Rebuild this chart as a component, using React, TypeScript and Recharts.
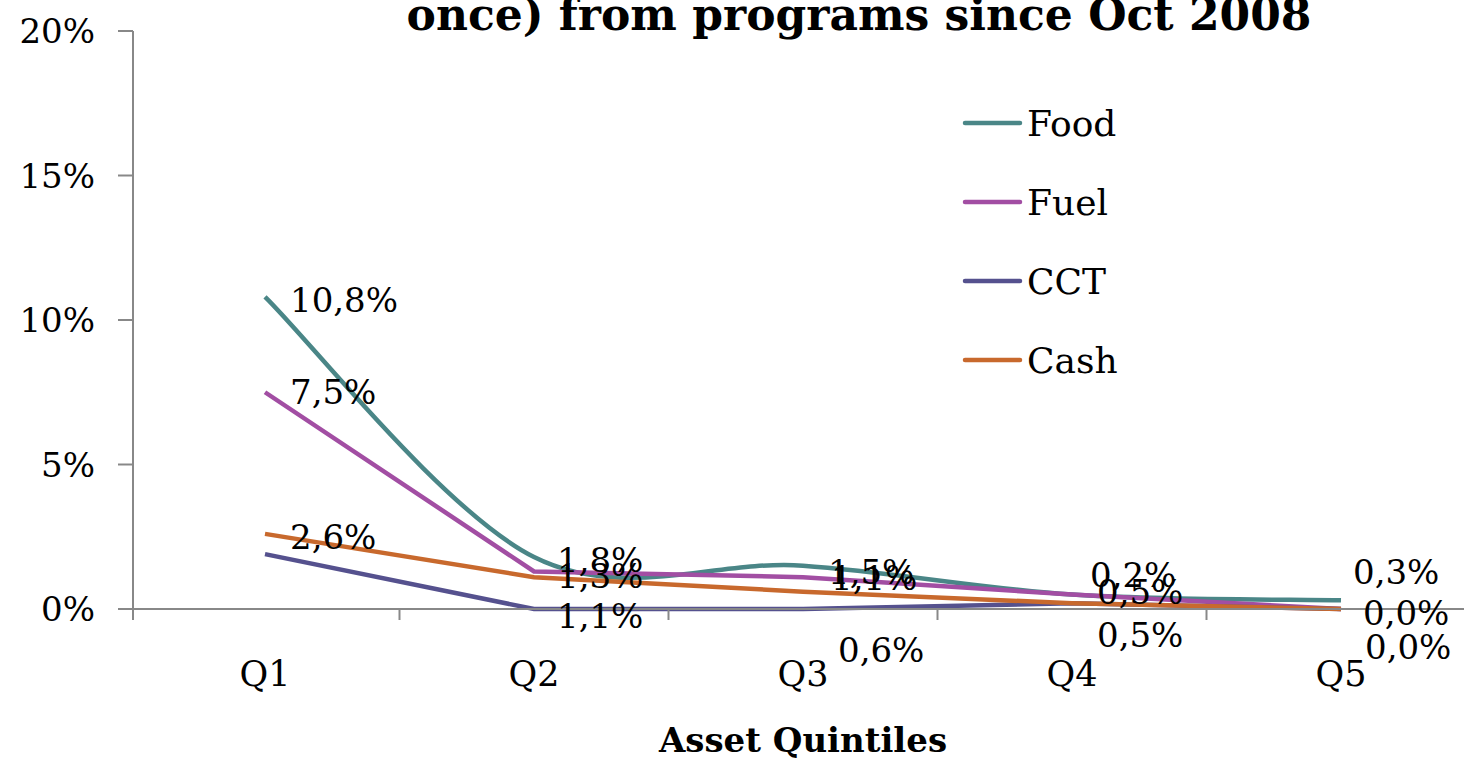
import { Label, LabelList, Legend, Line, LineChart, XAxis, YAxis } from "recharts";

const QUINTILES = ["Q1", "Q2", "Q3", "Q4", "Q5"];
const SERIES_ORDER = ["Food", "Fuel", "CCT", "Cash"];
const FOOD = [10.8, 1.8, 1.5, 0.5, 0.3];
const FUEL = [7.5, 1.3, 1.1, 0.5, 0.0];
const CCT = [1.9, 0.0, 0.0, 0.2, 0.0];
const CASH = [2.6, 1.1, 0.6, 0.2, 0.0];
const FOOD_LABELS = [10.8, 1.8, 1.5, 0.5, 0.3];
const FUEL_LABELS = [7.5, 1.3, 1.1, 0.5, 0.0];
const CASH_LABELS = [2.6, 1.1, 0.6, 0.2, 0.0];
const Y_TICKS = [0, 5, 10, 15, 20];

const COLORS = { food: "#4A8687", fuel: "#A24EA3", cct: "#55518E", cash: "#C8692D" };
const FONT = "'DejaVu Serif', serif";
const AXIS_GREY = "#888888";

const W = 1480;
const H = 762;
const PAD = 132;
const STEP = 269;

// where each data label sits relative to its point (the original stacks them oddly)
const LABEL_POS = {
  food: { dx: [25, 23, 25, 25, 12], dy: [3, 3, 6, -3, -28] },
  fuel: { dx: [25, 23, 28, 25, 22], dy: [0, 5, 1, 40, 4] },
  cash: { dx: [25, 23, 35, 18, 24], dy: [3, 39, 58, -28, 38] },
};

const data = QUINTILES.map((q, i) => ({
  q,
  food: FOOD[i],
  fuel: FUEL[i],
  cct: CCT[i],
  cash: CASH[i],
  foodLabel: FOOD_LABELS[i],
  fuelLabel: FUEL_LABELS[i],
  cashLabel: CASH_LABELS[i],
}));

const fmt = (v: number) => v.toFixed(1).replace(".", ",") + "%";

// Excel style smoothed line (Catmull-Rom through the points)
const excelSmooth = (context: any) => {
  let pts: number[][] = [];
  return {
    areaStart() {},
    areaEnd() {},
    lineStart() {
      pts = [];
    },
    point(x: number, y: number) {
      pts.push([+x, +y]);
    },
    lineEnd() {
      if (!pts.length) return;
      context.moveTo(pts[0][0], pts[0][1]);
      for (let i = 0; i < pts.length - 1; i++) {
        const p0 = pts[Math.max(i - 1, 0)];
        const p1 = pts[i];
        const p2 = pts[i + 1];
        const p3 = pts[Math.min(i + 2, pts.length - 1)];
        context.bezierCurveTo(
          p1[0] + (p2[0] - p0[0]) / 6,
          p1[1] + (p2[1] - p0[1]) / 6,
          p2[0] - (p3[0] - p1[0]) / 6,
          p2[1] - (p3[1] - p1[1]) / 6,
          p2[0],
          p2[1],
        );
      }
    },
  };
};

const makeLabel = (pos: { dx: number[]; dy: number[] }) => (props: any) => {
  const { x, y, value, index } = props;
  if (x == null || y == null) return null;
  return (
    <text
      x={x + pos.dx[index]}
      y={y + pos.dy[index]}
      dominantBaseline="central"
      fontFamily={FONT}
      fontSize={34}
      fill="#000"
    >
      {fmt(Number(value))}
    </text>
  );
};

const XTick = (props: any) => {
  const { x, y, payload, index } = props;
  const left = index === 0 ? x - PAD : x - STEP / 2;
  return (
    <g>
      <line x1={left} x2={left} y1={y} y2={y + 11} stroke={AXIS_GREY} strokeWidth={2} />
      {index === QUINTILES.length - 1 && (
        <line x1={x + STEP / 2} x2={x + STEP / 2} y1={y} y2={y + 11} stroke={AXIS_GREY} strokeWidth={2} />
      )}
      <text x={x} y={y + 77} textAnchor="middle" fontFamily={FONT} fontSize={35} fill="#000">
        {payload.value}
      </text>
    </g>
  );
};

const renderLegend = (props: any) => {
  const items = (props.payload || [])
    .filter((p: any) => p.value)
    .sort((a: any, b: any) => SERIES_ORDER.indexOf(a.value) - SERIES_ORDER.indexOf(b.value));
  return (
    <svg width={300} height={320}>
      {items.map((p: any, i: number) => {
        const cy = 33 + i * 79;
        return (
          <g key={p.value}>
            <line x1={15} x2={70} y1={cy} y2={cy} stroke={p.color} strokeWidth={4.5} strokeLinecap="round" />
            <text x={77} y={cy} dominantBaseline="central" fontFamily={FONT} fontSize={36} fill="#000">
              {p.value}
            </text>
          </g>
        );
      })}
    </svg>
  );
};

export default function App() {
  return (
    <div
      style={{
        position: "absolute",
        left: 0,
        top: 0,
        width: 1464,
        height: 762,
        overflow: "hidden",
        background: "#fff",
      }}
    >
      <LineChart width={W} height={H} data={data} margin={{ top: 31, right: 7, bottom: 0, left: 0 }}>
        <XAxis
          dataKey="q"
          padding={{ left: PAD, right: PAD }}
          height={153}
          tickLine={false}
          tickSize={0}
          tickMargin={0}
          axisLine={{ stroke: AXIS_GREY, strokeWidth: 2 }}
          tick={<XTick />}
          interval={0}
        >
          <Label
            value="Asset Quintiles"
            position="insideBottom"
            offset={10}
            style={{ fontFamily: FONT, fontSize: 34, fontWeight: "bold", fill: "#000" }}
          />
        </XAxis>
        <YAxis
          width={133}
          domain={[0, 20]}
          ticks={Y_TICKS}
          tickFormatter={(v) => `${v}%`}
          tickSize={15}
          tickMargin={23}
          axisLine={{ stroke: AXIS_GREY, strokeWidth: 2 }}
          tickLine={{ stroke: AXIS_GREY, strokeWidth: 2 }}
          tick={{ fontFamily: FONT, fontSize: 34, fill: "#000" }}
        />
        <Legend
          layout="vertical"
          align="center"
          verticalAlign="middle"
          content={renderLegend}
          wrapperStyle={{ left: 950, top: 90, width: 300, height: 320 }}
        />
        <Line
          type={excelSmooth as any}
          dataKey="food"
          name="Food"
          stroke={COLORS.food}
          strokeWidth={4.5}
          dot={false}
          isAnimationActive={false}
        >
          <LabelList dataKey="foodLabel" content={makeLabel(LABEL_POS.food)} />
        </Line>
        <Line
          type="linear"
          dataKey="fuel"
          name="Fuel"
          stroke={COLORS.fuel}
          strokeWidth={4.5}
          dot={false}
          isAnimationActive={false}
        >
          <LabelList dataKey="fuelLabel" content={makeLabel(LABEL_POS.fuel)} />
        </Line>
        <Line
          type="linear"
          dataKey="cct"
          name="CCT"
          stroke={COLORS.cct}
          strokeWidth={4.5}
          dot={false}
          isAnimationActive={false}
        />
        <Line
          type="linear"
          dataKey="cash"
          name="Cash"
          stroke={COLORS.cash}
          strokeWidth={4.5}
          dot={false}
          isAnimationActive={false}
        >
          <LabelList dataKey="cashLabel" content={makeLabel(LABEL_POS.cash)} />
        </Line>
      </LineChart>
      <svg
        width={1464}
        height={60}
        style={{ position: "absolute", left: 0, top: 0, pointerEvents: "none" }}
      >
        <text
          x={859}
          y={30}
          textAnchor="middle"
          fontFamily={FONT}
          fontSize={44}
          fontWeight="bold"
          fill="#000"
        >
          once) from programs since Oct 2008
        </text>
      </svg>
    </div>
  );
}
